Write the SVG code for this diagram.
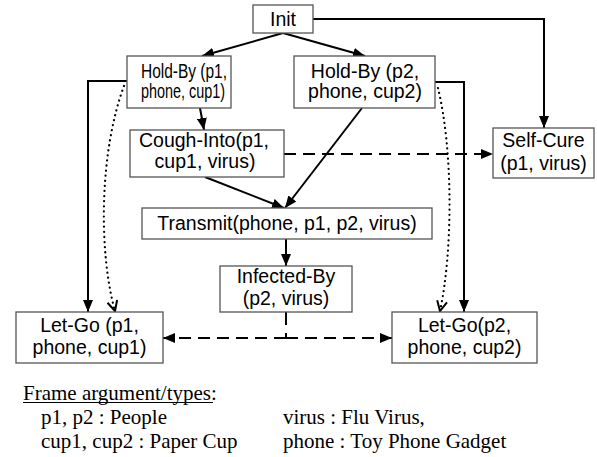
<svg xmlns="http://www.w3.org/2000/svg" width="597" height="457" viewBox="0 0 597 457">
  <style>
    .box { fill: #ffffff; stroke: #555555; stroke-width: 1.3; }
    .lbl { font-family: "Liberation Sans", Arial, sans-serif; font-size: 19.5px; fill: #000; text-anchor: middle; }
    .edge { fill: none; stroke: #000; stroke-width: 2; }
    .dash { stroke-dasharray: 12 7; }
    .dot { stroke-dasharray: 0.1 5; stroke-linecap: round; stroke-width: 2.2; }
    .legend { font-family: "Liberation Serif", "Times New Roman", serif; font-size: 21px; fill: #000; }
  </style>
  <defs>
    <marker id="arrow" viewBox="0 0 12 10" refX="12" refY="5" markerWidth="12" markerHeight="10" markerUnits="userSpaceOnUse" orient="auto">
      <path d="M0,0 L12,5 L0,10 Z" fill="#000"/>
    </marker>
    <marker id="vee" viewBox="0 0 12 12" refX="11" refY="6" markerWidth="12" markerHeight="12" markerUnits="userSpaceOnUse" orient="auto">
      <path d="M1,1 L11,6 L1,11" fill="none" stroke="#000" stroke-width="2"/>
    </marker>
  </defs>

  <!-- connectors -->
  <g id="connectors">
    <line class="edge" x1="283" y1="33" x2="202" y2="56" marker-end="url(#arrow)"/>
    <line class="edge" x1="283" y1="33" x2="365" y2="56" marker-end="url(#arrow)"/>
    <polyline class="edge" points="313,19 544,19 544,128" marker-end="url(#arrow)"/>
    <polyline class="edge" points="127,81 88,81 88,312" marker-end="url(#arrow)"/>
    <path class="edge dot" d="M124,86 C100,150 98,250 115,311" marker-end="url(#vee)"/>
    <polyline class="edge" points="435,82 464,82 464,312" marker-end="url(#arrow)"/>
    <path class="edge dot" d="M438,88 C453,150 453,250 440,311" marker-end="url(#vee)"/>
    <line class="edge" x1="200" y1="108" x2="204" y2="130" marker-end="url(#arrow)"/>
    <line class="edge" x1="362" y1="108" x2="285" y2="208" marker-end="url(#arrow)"/>
    <line class="edge" x1="205" y1="177" x2="284" y2="208" marker-end="url(#arrow)"/>
    <line class="edge dash" x1="284" y1="154" x2="493" y2="154" marker-end="url(#arrow)"/>
    <line class="edge" x1="286" y1="239" x2="286" y2="266" marker-end="url(#arrow)"/>
    <line class="edge" x1="286" y1="312" x2="286" y2="325" />
    <line class="edge" x1="286" y1="333" x2="286" y2="338" />
    <line class="edge dash" x1="286" y1="338" x2="163" y2="338" marker-end="url(#arrow)"/>
    <line class="edge dash" x1="286" y1="338" x2="392" y2="338" marker-end="url(#arrow)"/>
  </g>

  <!-- nodes -->
  <g id="init">
    <rect class="box" x="253" y="5" width="60" height="28"/>
    <text class="lbl" x="283" y="26">Init</text>
  </g>
  <g id="hold-by-p1">
    <rect class="box" x="127" y="56" width="104" height="52"/>
    <text class="lbl" x="184" y="78" textLength="86" lengthAdjust="spacingAndGlyphs">Hold-By (p1,</text>
    <text class="lbl" x="183" y="98" textLength="84" lengthAdjust="spacingAndGlyphs">phone, cup1)</text>
  </g>
  <g id="hold-by-p2">
    <rect class="box" x="294" y="56" width="141" height="52"/>
    <text class="lbl" x="365" y="78">Hold-By (p2,</text>
    <text class="lbl" x="365" y="98">phone, cup2)</text>
  </g>
  <g id="cough-into">
    <rect class="box" x="130" y="130" width="154" height="47"/>
    <text class="lbl" x="204" y="147">Cough-Into(p1,</text>
    <text class="lbl" x="205" y="168">cup1, virus)</text>
  </g>
  <g id="self-cure">
    <rect class="box" x="493" y="128" width="101" height="50"/>
    <text class="lbl" x="543.5" y="147">Self-Cure</text>
    <text class="lbl" x="543.5" y="170">(p1, virus)</text>
  </g>
  <g id="transmit">
    <rect class="box" x="142" y="208" width="290" height="31"/>
    <text class="lbl" x="287" y="230">Transmit(phone, p1, p2, virus)</text>
  </g>
  <g id="infected-by">
    <rect class="box" x="220" y="266" width="132" height="46"/>
    <text class="lbl" x="286" y="283">Infected-By</text>
    <text class="lbl" x="286" y="305">(p2, virus)</text>
  </g>
  <g id="let-go-p1">
    <rect class="box" x="16" y="312" width="147" height="51"/>
    <text class="lbl" x="89.5" y="332">Let-Go (p1,</text>
    <text class="lbl" x="89.5" y="354">phone, cup1)</text>
  </g>
  <g id="let-go-p2">
    <rect class="box" x="392" y="312" width="145" height="51"/>
    <text class="lbl" x="464.5" y="332">Let-Go(p2,</text>
    <text class="lbl" x="464.5" y="354">phone, cup2)</text>
  </g>

  <!-- legend -->
  <g id="legend" class="legend">
    <text x="23" y="400">Frame argument/types:</text>
    <line x1="23" y1="402.5" x2="213" y2="402.5" stroke="#000" stroke-width="1"/>
    <text x="41" y="424">p1, p2 : People</text>
    <text x="41" y="448">cup1, cup2 : Paper Cup</text>
    <text x="283" y="424">virus : Flu Virus,</text>
    <text x="283" y="448">phone : Toy Phone Gadget</text>
  </g>
</svg>
